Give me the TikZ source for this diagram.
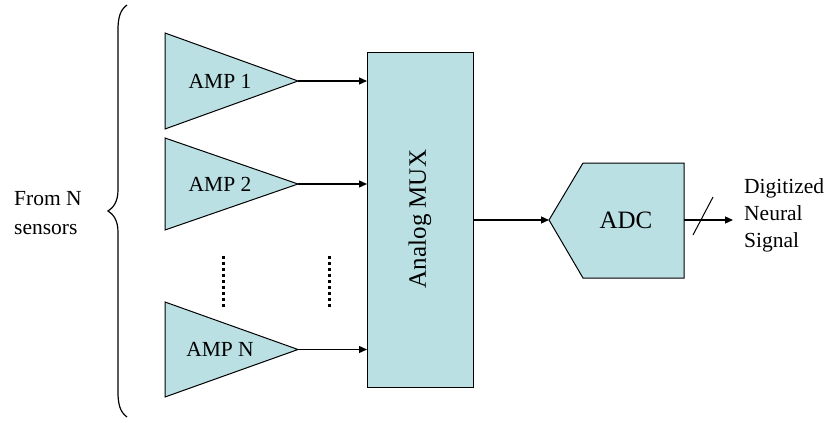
\documentclass[tikz,border=0pt]{standalone}
\usepackage{fontspec}
\setmainfont{Liberation Serif}
\usetikzlibrary{arrows.meta}
\definecolor{blockfill}{RGB}{186,224,228}
\tikzset{
  x=1pt, y=-1pt,
  block/.style={draw=black, fill=blockfill, line width=1pt},
  sig/.style={line width=1.3pt, -{Triangle[length=8pt,width=7pt]}},
  dots/.style={line width=3pt, dash pattern=on 3pt off 3pt},
  lbl/.style={font=\rmfamily\fontsize{21.5}{26}\selectfont, inner sep=0pt},
  big/.style={font=\rmfamily\fontsize{25}{30}\selectfont, inner sep=0pt},
}
\begin{document}
\begin{tikzpicture}
\useasboundingbox (0,0) rectangle (830,423);

% amplifiers
\foreach \n/\t/\b/\txt in {a1/33/129/AMP 1, a2/138/230/AMP 2, an/302/397/AMP N}{
  \path[block] (165,\t) -- (298,{(\t+\b)/2}) -- (165,\b) -- cycle;
  \coordinate (\n) at (298,{(\t+\b)/2});
  \node[lbl] (\n txt) at (220,{(\t+\b)/2}) {\txt};
}

% multiplexer
\node[block, minimum width=106pt, minimum height=335pt, inner sep=0pt, anchor=north west]
  (mux) at (367,52) {};
\node[big, rotate=90] (muxtxt) at (420,219) {Analog MUX};

% converter
\path[block] (549,220) -- (583,163) -- (684,163) -- (684,278) -- (583,278) -- cycle;
\coordinate (adcin) at (549,220);
\coordinate (adcout) at (684,220);
\node[big] (adctxt) at (626,220) {ADC};

% connections
\draw[sig] (a1) -- (a1 -| mux.west);
\draw[sig] (a2) -- (a2 -| mux.west);
\draw[sig] (an) -- (an -| mux.west);
\draw[sig] (mux.east |- adcin) -- (adcin);
\coordinate (outend) at (733,220);
\draw[sig] (adcout) -- (outend);
\coordinate (slA) at (693,235);
\coordinate (slB) at (713,197);
\draw[line width=1pt] (slA) -- (slB);

% omitted channels
\coordinate (d1t) at (223,256); \coordinate (d1b) at (223,308);
\coordinate (d2t) at (329,256); \coordinate (d2b) at (329,308);
\draw[dots] (d1t) -- (d1b);
\draw[dots] (d2t) -- (d2b);

% output label
\node[lbl, align=left, anchor=west, font=\rmfamily\fontsize{21.5}{27}\selectfont] (outtxt) at (744,215)
  {Digitized\\Neural\\Signal};

% input brace
\draw[line width=1.2pt]
  (127,5) .. controls (120,10) and (118,18) .. (118,30) -- (118,190)
  .. controls (118,202) and (113,208) .. (108,211)
  .. controls (113,214) and (118,220) .. (118,232) -- (118,392)
  .. controls (118,404) and (120,412) .. (127,417);
\node[lbl, align=left, anchor=west, font=\rmfamily\fontsize{21.5}{29}\selectfont] (srctxt) at (14,213)
  {From N\\sensors};
\end{tikzpicture}
\end{document}
